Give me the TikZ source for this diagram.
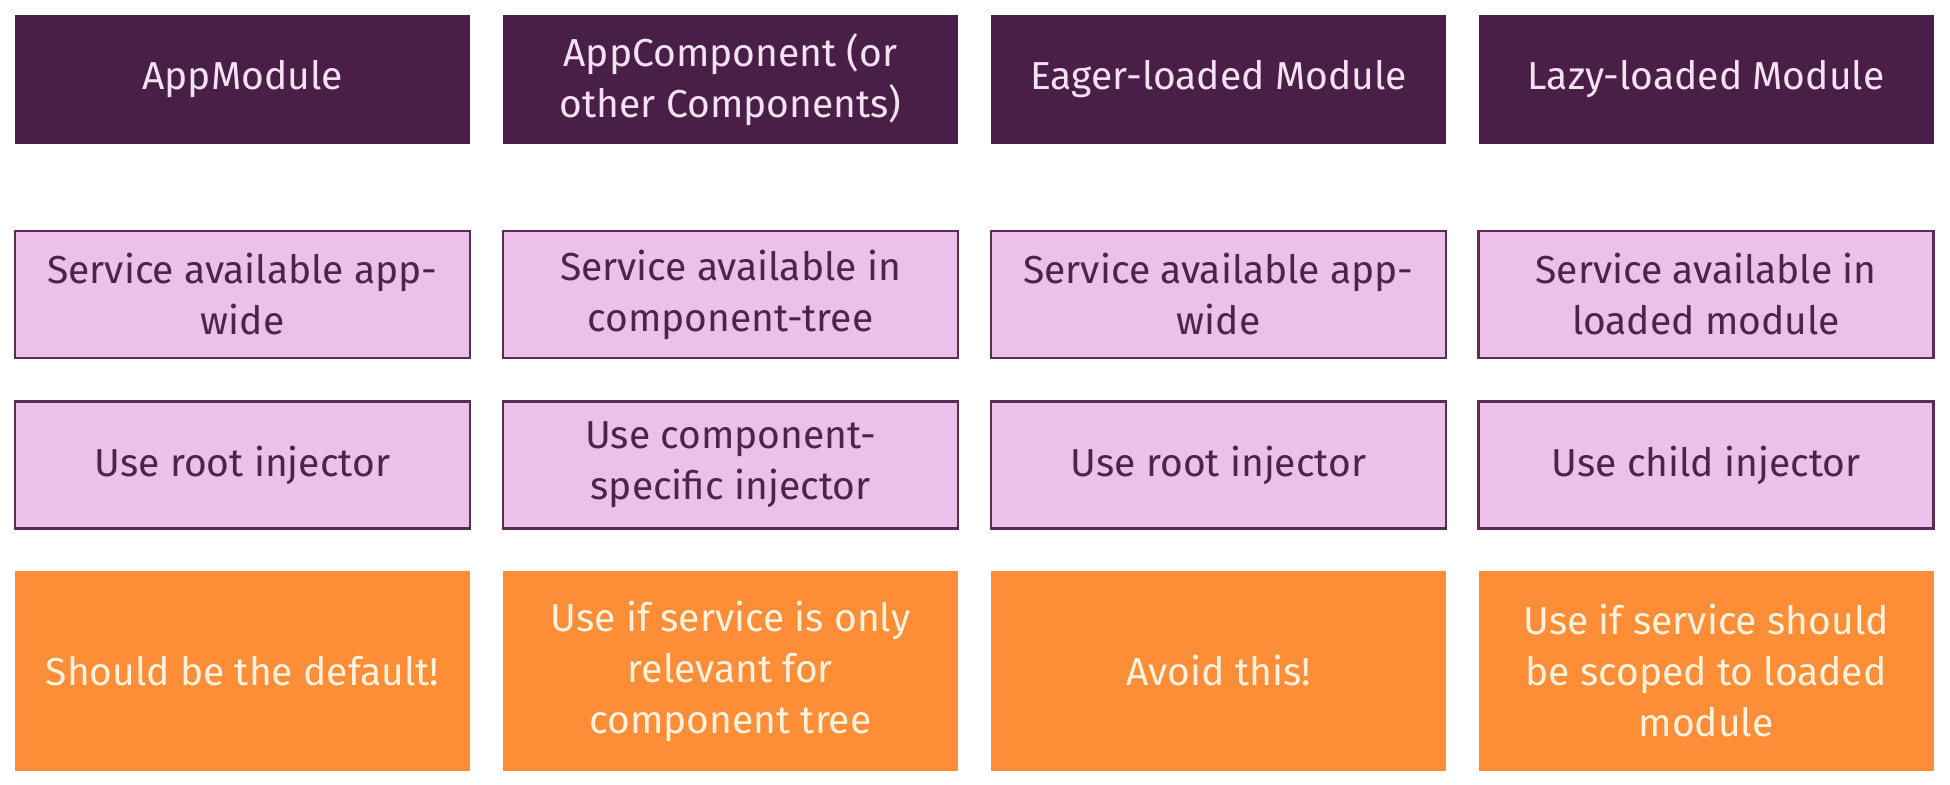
\documentclass[tikz,border=0pt]{standalone}
\usepackage{fontspec}
\setmainfont{Fira Sans}
\definecolor{hdr}{HTML}{4A1F47}
\definecolor{hdrtext}{HTML}{F4E2F2}
\definecolor{pinkfill}{HTML}{ECC0E9}
\definecolor{pinkline}{HTML}{5A2C56}
\definecolor{pinktext}{HTML}{4C2349}
\definecolor{orangefill}{HTML}{FD8D36}
\definecolor{orangetext}{HTML}{FFF2DE}
\tikzset{
  cell/.style={rectangle, minimum width=455pt, inner sep=0pt, align=center,
    font=\fontsize{39}{51}\selectfont},
  hdrbox/.style={cell, fill=hdr, text=hdrtext, minimum height=129pt},
  pinkbox/.style={cell, fill=pinkfill, draw=pinkline, line width=2.5pt, text=pinktext, minimum height=127pt},
  orangebox/.style={cell, fill=orangefill, text=orangetext, minimum height=200pt},
}
\begin{document}
\begin{tikzpicture}[x=1pt,y=-1pt]
\useasboundingbox[fill=white] (0,0) rectangle (1950,784);
% row 1
\node[hdrbox] (h1) at (242.5,79.5) {AppModule};
\node[hdrbox] (h2) at (730.5,79.5) {AppComponent (or\\other Components)};
\node[hdrbox] (h3) at (1218.5,79.5) {Eager-loaded Module};
\node[hdrbox] (h4) at (1706,79.5) {Lazy-loaded Module};
% row 2
\node[pinkbox] (a1) at (242.5,294.5) {Service available app-\\wide};
\node[pinkbox] (a2) at (730.5,294.5) {Service available in\\component-tree};
\node[pinkbox] (a3) at (1218.5,294.5) {Service available app-\\wide};
\node[pinkbox] (a4) at (1706,294.5) {Service available in\\loaded module};
% row 3
\node[pinkbox] (b1) at (242.5,465) {Use root injector};
\node[pinkbox] (b2) at (730.5,465) {Use component-\\specific injector};
\node[pinkbox] (b3) at (1218.5,465) {Use root injector};
\node[pinkbox] (b4) at (1706,465) {Use child injector};
% row 4
\node[orangebox] (c1) at (242.5,671) {Should be the default!};
\node[orangebox] (c2) at (730.5,671) {Use if service is only\\relevant for\\component tree};
\node[orangebox] (c3) at (1218.5,671) {Avoid this!};
\node[orangebox] (c4) at (1706,671) {Use if service should\\be scoped to loaded\\module};
\end{tikzpicture}
\end{document}
